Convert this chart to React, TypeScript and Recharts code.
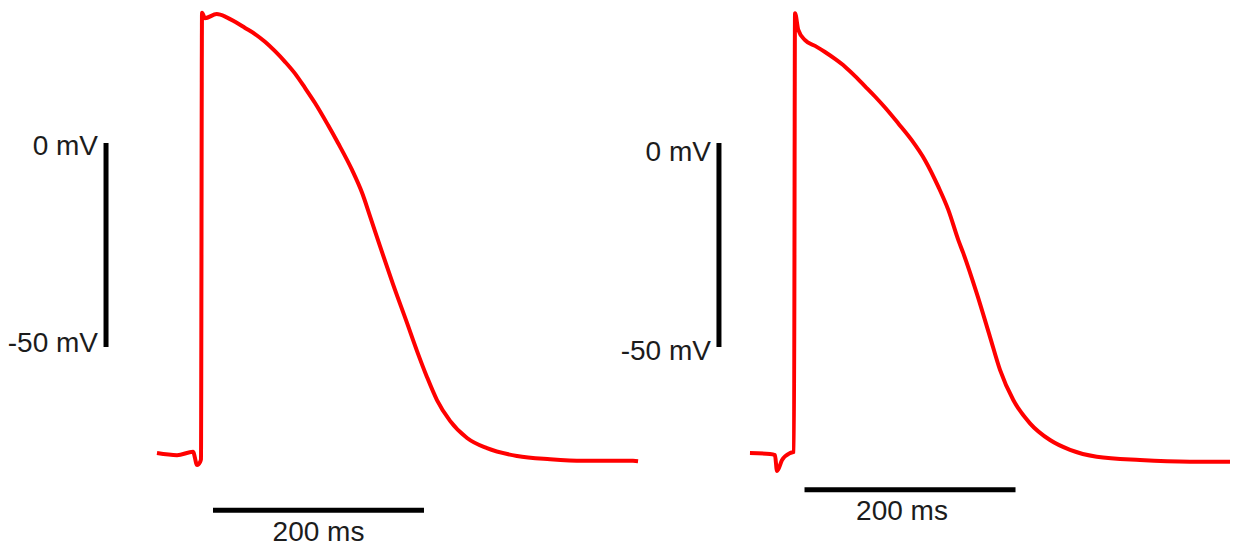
import React from 'react';
import { LineChart, Line, XAxis, YAxis, ReferenceLine } from 'recharts';

// Action potential traces, time in ms relative to the upstroke, voltage in mV
const leftTime = [
  -42.7, -23.7, -8.5, -4.7, -1.9, -1, 0, 2.8, 13.9, 23.4, 31.3, 40.8, 50.2, 59.7, 69.2, 78.7,
  88.2, 97.6, 107.1, 119.4, 128.9, 142.2, 151.7, 159.2, 168.7, 181.0, 194.3, 203.8, 213.3,
  222.7, 235.1, 251.2, 270.1, 298.6, 329.9, 361.1, 408.5, 413.3,
];
const leftVoltage = [
  -76.0, -76.5, -75.7, -78.9, -78.2, -77.5, 31.9, 30.6, 31.6, 30.8, 29.7, 28.2, 26.7, 24.8,
  22.5, 19.9, 17.0, 13.5, 9.8, 4.4, 0, -6.6, -12.2, -17.9, -25.3, -34.6, -44.1, -51.0, -57.4,
  -63.0, -68.1, -72.3, -74.8, -76.7, -77.5, -77.9, -77.9, -78.0,
];

const rightTime = [
  -42.7, -23.7, -19.0, -17.1, -12.3, -4.7, -1, 0, 3.1, 9.5, 19.0, 28.4, 37.9, 47.4, 56.9,
  66.4, 75.8, 85.3, 97.9, 110.6, 123.2, 135.8, 145.3, 154.8, 159.5, 172.2, 184.8, 194.3,
  206.9, 222.7, 241.7, 260.7, 286.0, 327.0, 374.4, 412.3,
];
const rightVoltage = [
  -76.0, -76.2, -76.5, -80.4, -77.7, -76.0, -75.7, 31.8, 27.7, 25.2, 23.8, 22.3, 20.6, 18.7,
  16.4, 13.9, 11.4, 8.7, 4.8, 0.7, -4.2, -10.7, -16.4, -23.8, -27.0, -36.8, -47.5, -55.6,
  -63.0, -68.7, -72.8, -75.2, -76.9, -77.7, -78.1, -78.1,
];

// scale bars: vertical 0 to -50 mV, horizontal 200 ms
const voltageBar = [0, -50];
const voltageLabels = ['0 mV', '-50 mV'];
const timeLabel = '200 ms';

const panels = [
  {
    onset: 191.5,
    time: leftTime,
    voltage: leftVoltage,
    vBarTime: -91,
    hBarTime: [10.4, 210.4],
    hBarVoltage: -90,
    vLabelDy: [2, -5],
    hLabelDy: 21,
    hLabelDx: 0,
  },
  {
    onset: 753.6,
    time: rightTime,
    voltage: rightVoltage,
    vBarTime: -72.1,
    hBarTime: [9, 209],
    hBarVoltage: -85,
    vLabelDy: [8.5, 3],
    hLabelDy: 21,
    hLabelDx: -8,
  },
];

const WIDTH = 1234;
const HEIGHT = 548;
const X_MAX = 1169.7;
const Y_DOMAIN = [-99.26, 35.05];
const FONT = '"Liberation Sans", Arial, sans-serif';
const FONT_SIZE = 28;
const TEXT_COLOR = '#1c1c1c';

export default function App() {
  const series = panels.map((p) =>
    p.time.map((t, i) => ({ t: p.onset + t, v: p.voltage[i] }))
  );

  return (
    <div style={{ position: 'absolute', left: 0, top: 0, background: '#fff' }}>
      <LineChart width={WIDTH} height={HEIGHT} margin={{ top: 0, right: 0, bottom: 0, left: 0 }}>
        <XAxis type="number" dataKey="t" domain={[0, X_MAX]} allowDataOverflow hide />
        <YAxis type="number" domain={Y_DOMAIN} allowDataOverflow hide />

        {panels.map((p, k) => (
          <ReferenceLine
            key={`v${k}`}
            segment={[
              { x: p.onset + p.vBarTime, y: voltageBar[0] },
              { x: p.onset + p.vBarTime, y: voltageBar[1] },
            ]}
            stroke="#000"
            strokeWidth={5}
            ifOverflow="visible"
            label={{
              content: (props: any) => {
                const vb = props.viewBox || {};
                return (
                  <g>
                    <text
                      x={vb.x - 8}
                      y={vb.y + p.vLabelDy[0]}
                      textAnchor="end"
                      dominantBaseline="central"
                      fontFamily={FONT}
                      fontSize={FONT_SIZE}
                      fill={TEXT_COLOR}
                    >
                      {voltageLabels[0]}
                    </text>
                    <text
                      x={vb.x - 8}
                      y={vb.y + vb.height + p.vLabelDy[1]}
                      textAnchor="end"
                      dominantBaseline="central"
                      fontFamily={FONT}
                      fontSize={FONT_SIZE}
                      fill={TEXT_COLOR}
                    >
                      {voltageLabels[1]}
                    </text>
                  </g>
                );
              },
            }}
          />
        ))}

        {panels.map((p, k) => (
          <ReferenceLine
            key={`h${k}`}
            segment={[
              { x: p.onset + p.hBarTime[0], y: p.hBarVoltage },
              { x: p.onset + p.hBarTime[1], y: p.hBarVoltage },
            ]}
            stroke="#000"
            strokeWidth={5}
            ifOverflow="visible"
            label={{
              content: (props: any) => {
                const vb = props.viewBox || {};
                return (
                  <text
                    x={vb.x + vb.width / 2 + p.hLabelDx}
                    y={vb.y + p.hLabelDy}
                    textAnchor="middle"
                    dominantBaseline="central"
                    fontFamily={FONT}
                    fontSize={FONT_SIZE}
                    fill={TEXT_COLOR}
                  >
                    {timeLabel}
                  </text>
                );
              },
            }}
          />
        ))}

        {series.map((data, k) => (
          <Line
            key={`trace${k}`}
            data={data}
            dataKey="v"
            type="monotone"
            stroke="#ff0000"
            strokeWidth={4}
            dot={false}
            activeDot={false}
            isAnimationActive={false}
          />
        ))}
      </LineChart>
    </div>
  );
}
